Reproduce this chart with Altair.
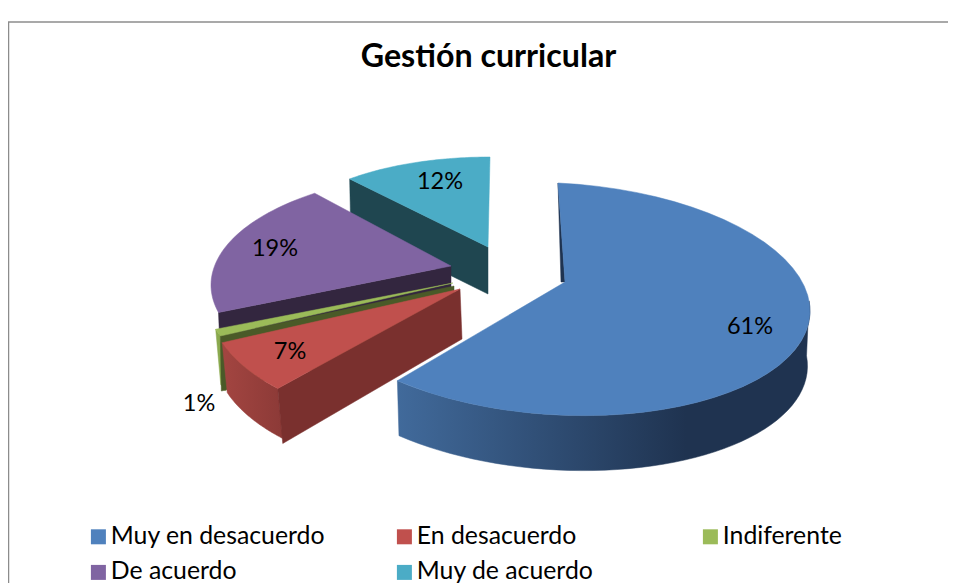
import math
import altair as alt
import pandas as pd

TITLE = "Gestión curricular"
categories = ["Muy en desacuerdo", "En desacuerdo", "Indiferente", "De acuerdo", "Muy de acuerdo"]
values = [61, 7, 1, 19, 12]
colors = ["#4f81bd", "#c0504d", "#9bbb59", "#8064a2", "#4bacc6"]
wall_dark = ["#1f3350", "#7a302e", "#4a5a28", "#33263f", "#1f4650"]
value_labels = ["61%", "7%", "1%", "19%", "12%"]

# view of each exploded slice: apex, ellipse centre, radii, rotation, skew, depth
views = {
    "Muy en desacuerdo": dict(apex=(565, 282), c=(558, 299), a=252, d=116, off=0, skew=12, depth=55),
    "En desacuerdo": dict(apex=(460, 289), c=(460, 305), a=250, d=122, off=7.2, skew=0, depth=52),
    "Indiferente": dict(apex=(453, 283), c=(462, 300), a=255, d=113, off=6.6, skew=0, depth=55),
    "De acuerdo": dict(apex=(451, 266), c=(460, 285), a=249, d=113, off=7.5, skew=0, depth=24),
    "Muy de acuerdo": dict(apex=(488, 247), c=(490, 238), a=205, d=81, off=0, skew=0, depth=47),
}
label_pos = {
    "Muy en desacuerdo": (750, 327),
    "En desacuerdo": (290, 352),
    "Indiferente": (199, 404),
    "De acuerdo": (275, 249),
    "Muy de acuerdo": (440, 182),
}

spans = {}
acc = 0.0
for c, v in zip(categories, values):
    spans[c] = (acc * 3.6, (acc + v) * 3.6)
    acc += v


def pt(cat, theta, dy=0.0, k=1.0):
    view = views[cat]
    t = math.radians(theta + view["off"])
    return (view["c"][0] + k * view["a"] * math.sin(t),
            view["c"][1] + dy - view["d"] * math.cos(t) + view["skew"] * math.sin(t))


def arc(cat, t0, t1, dy=0.0, k=1.0, n=48):
    return [pt(cat, t0 + (t1 - t0) * i / n, dy, k) for i in range(n + 1)]


X = alt.Scale(domain=[8, 948], range=[0, 940])
Y = alt.Scale(domain=[8, 583], range=[0, 575])


def face(points, fill):
    df = pd.DataFrame({"x": [p[0] for p in points], "y": [p[1] for p in points], "i": range(len(points))})
    return alt.Chart(df).mark_line(interpolate="linear-closed", fill=fill, stroke=fill, strokeWidth=0.5).encode(
        x=alt.X("x:Q", scale=X, axis=None),
        y=alt.Y("y:Q", scale=Y, axis=None),
        order="i:Q",
    )


def hgrad(stops, x1=0, x2=1):
    return alt.Gradient(gradient="linear", x1=x1, x2=x2, y1=0, y2=0,
                        stops=[alt.GradientStop(color=c, offset=o) for c, o in stops])


def params(cat):
    v = views[cat]
    t0, t1 = spans[cat]
    return categories.index(cat), v["apex"][0], v["apex"][1], v["depth"], t0, t1


layers = []

# Muy de acuerdo (back)
cat = "Muy de acuerdo"
i, ax, ay, dep, t0, t1 = params(cat)
s = pt(cat, t0)
layers.append(face([s, (ax, ay), (ax, ay + dep), (s[0] + 1, s[1] + dep)], wall_dark[i]))
layers.append(face([(ax, ay)] + arc(cat, t0, t1), colors[i]))

# De acuerdo
cat = "De acuerdo"
i, ax, ay, dep, t0, t1 = params(cat)
s = pt(cat, t0)
layers.append(face([s, (ax, ay), (ax, ay + dep), (s[0] + 1, s[1] + dep)], wall_dark[i]))
layers.append(face([(ax, ay)] + arc(cat, t0, t1), colors[i]))

# Indiferente
cat = "Indiferente"
i, ax, ay, dep, t0, t1 = params(cat)
s = pt(cat, t0)
e = pt(cat, t1)
layers.append(face([e, s, (s[0] + 5, s[1] + dep), (e[0] + 5, e[1] + dep)], "#8aa94e"))
layers.append(face([s, (ax + 1, ay + 3), (ax + 1, ay + dep), (s[0] + 1, s[1] + dep)], wall_dark[i]))
layers.append(face([(ax, ay)] + arc(cat, t0, t1), colors[i]))

# En desacuerdo
cat = "En desacuerdo"
i, ax, ay, dep, t0, t1 = params(cat)
s = pt(cat, t0)
layers.append(face(arc(cat, t0, t1) + [(p[0] + 5, p[1]) for p in arc(cat, t0, t1, dep - 2)][::-1],
                   hgrad([("#a34541", 0), ("#8c3a37", 1)])))
layers.append(face([s, (ax, ay), (ax + 2, ay + 50), (s[0] + 5, s[1] + dep + 3)], wall_dark[i]))
layers.append(face([(ax, ay)] + arc(cat, t0, t1), colors[i]))

# Muy en desacuerdo (front)
cat = "Muy en desacuerdo"
i, ax, ay, dep, t0, t1 = params(cat)
s = pt(cat, t0)
layers.append(face(arc(cat, 85, t1) + arc(cat, 85, t1, dep, 0.99)[::-1],
                   hgrad([("#1f3350", 0), ("#1f3350", 0.3), ("#416a9b", 1)], x1=1, x2=0)))
layers.append(face([s, (ax - 4, ay), (ax, ay)], wall_dark[i]))
layers.append(face([(ax, ay)] + arc(cat, t0, t1), colors[i]))

FONT = "Lato"

lab = pd.DataFrame({
    "label": value_labels,
    "x": [label_pos[c][0] for c in categories],
    "y": [label_pos[c][1] for c in categories],
})
labels = alt.Chart(lab).mark_text(font=FONT, fontSize=23.5, color="#000000").encode(
    x=alt.X("x:Q", scale=X, axis=None), y=alt.Y("y:Q", scale=Y, axis=None), text="label:N")

title = alt.Chart(pd.DataFrame({"t": [TITLE], "x": [488.5], "y": [57]})).mark_text(
    font=FONT, fontSize=32.2, fontWeight="bold", color="#000000").encode(
    x=alt.X("x:Q", scale=X, axis=None), y=alt.Y("y:Q", scale=Y, axis=None), text="t:N")

GRAY = "#8c8c8c"
frame = [
    alt.Chart(pd.DataFrame({"x": [8], "x2": [948], "y": [22]})).mark_rule(color=GRAY, strokeWidth=1.5).encode(
        x=alt.X("x:Q", scale=X, axis=None), x2="x2:Q", y=alt.Y("y:Q", scale=Y, axis=None)),
    alt.Chart(pd.DataFrame({"x": [8.5], "y": [22], "y2": [583]})).mark_rule(color=GRAY, strokeWidth=1.5).encode(
        x=alt.X("x:Q", scale=X, axis=None), y=alt.Y("y:Q", scale=Y, axis=None), y2="y2:Q"),
]

leg = alt.Chart(pd.DataFrame({"cat": categories, "x": [488] * 5, "y": [300] * 5})).mark_square(size=0, opacity=1).encode(
    x=alt.X("x:Q", scale=X, axis=None),
    y=alt.Y("y:Q", scale=Y, axis=None),
    color=alt.Color("cat:N", scale=alt.Scale(domain=categories, range=colors), sort=categories,
                    legend=alt.Legend(orient="none", legendX=78, legendY=516, columns=3, gridAlign="all",
                                      direction="horizontal",
                                      symbolType="square", symbolSize=225, title=None,
                                      labelFont=FONT, labelFontSize=24.8, labelColor="#000000",
                                      labelLimit=300, labelOffset=0, columnPadding=66, rowPadding=10, padding=0,
                                      symbolStrokeWidth=0, symbolOpacity=1)),
)

chart = alt.layer(*frame, *layers, labels, title, leg).properties(
    width=940, height=575, padding=0, autosize=alt.AutoSizeParams(type="none"),
    background="#ffffff",
).configure_view(stroke=None)

chart.save("out.html", embed_options={"renderer": "svg", "actions": False})
